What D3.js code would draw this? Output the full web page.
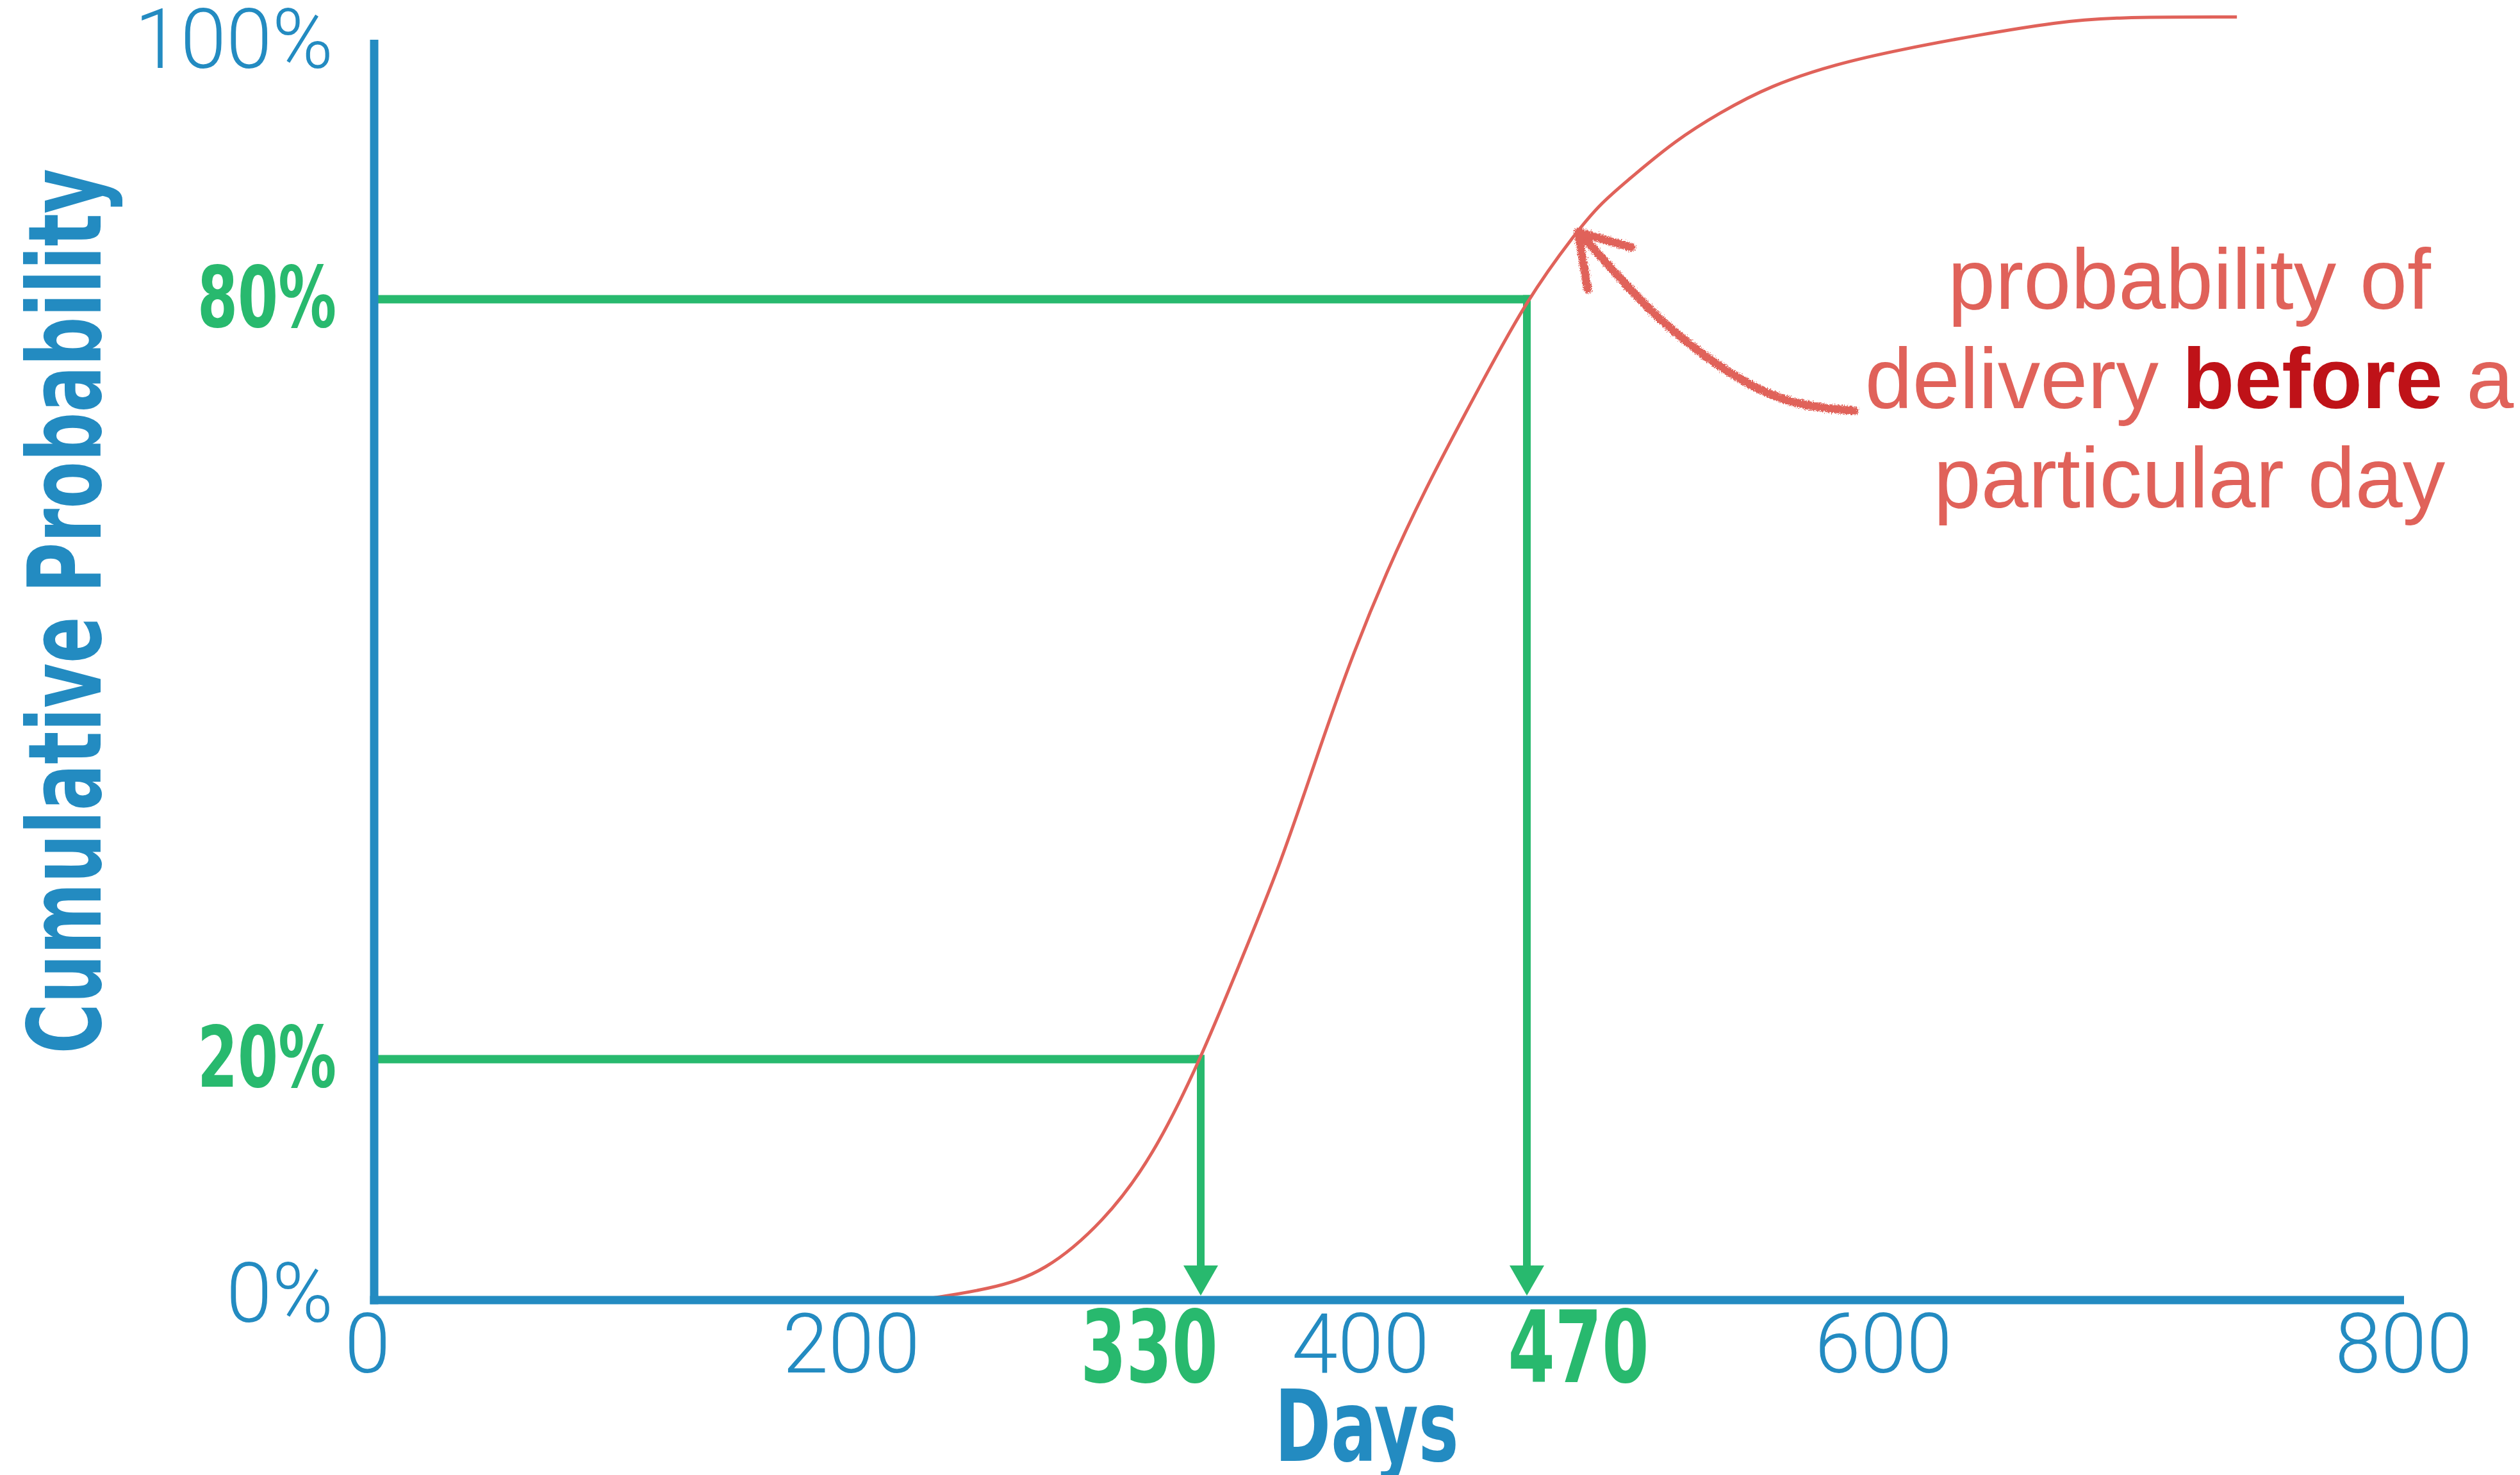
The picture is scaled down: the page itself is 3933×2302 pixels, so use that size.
<!DOCTYPE html>
<html>
<head>
<meta charset="utf-8">
<script src="https://cdn.jsdelivr.net/npm/d3@7"></script>
<style>
  html, body { margin: 0; padding: 0; background: #ffffff; }
  svg { display: block; }
</style>
</head>
<body>
<svg id="chart" width="3933" height="2302"></svg>
<script>
// ---------------- data ----------------
const curveDays = [225, 252, 272, 294, 312, 330, 347, 365, 380, 395, 411, 428, 449, 470, 488, 497, 509, 524, 540, 559, 583, 606, 637, 667, 688, 736];
const curveProb = [0, 0.009, 0.023, 0.065, 0.118, 0.200, 0.275, 0.354, 0.434, 0.512, 0.585, 0.653, 0.727, 0.800, 0.853, 0.876, 0.898, 0.925, 0.947, 0.969, 0.986, 0.997, 1.009, 1.019, 1.023, 1.023];

const xTickValues = [0, 200, 400, 600, 800];
const yTickValues = [0, 1];
const markerProb = [0.2, 0.8];
const markerDays = [330, 470];

// hand-drawn annotation arrow, in data units (days, probability)
const arrowDays = [589.5, 567.5, 548.1, 528.5, 514.0, 499.2, 489.6, 488.7];
const arrowProb = [0.712, 0.716, 0.735, 0.765, 0.793, 0.828, 0.852, 0.853];
const arrowHeadDays = [508.1, 488.7, 492.2];
const arrowHeadProb = [0.841, 0.853, 0.808];

const noteLines = [
  [{ t: "probability of", b: false }],
  [{ t: "delivery ", b: false }, { t: "before", b: true }, { t: " a", b: false }],
  [{ t: "particular day", b: false }]
];
const yTitle = "Cumulative Probability";
const xTitle = "Days";

// ---------------- style ----------------
const BLUE = "#238bc1";
const GREEN = "#28b96e";
const RED = "#e0625a";
const DARKRED = "#bf1218";
const LIGHT = "Roboto, 'Helvetica Neue', 'Liberation Sans', sans-serif";
const COND = "'Liberation Sans Narrow', 'DejaVu Sans Condensed', 'Liberation Sans', sans-serif";
const REG = "'Liberation Sans', Arial, 'Helvetica Neue', sans-serif";

const svg = d3.select("#chart");

// the hand-drawn original spaces its labels unevenly; a piecewise-linear scale reproduces that
const x = d3.scaleLinear()
  .domain([0, 200, 330, 400, 470, 600, 800])
  .range([573, 1328, 1874, 2123, 2383, 2939, 3751]);
const y = d3.scaleLinear()
  .domain([0, 0.2, 0.8, 1])
  .range([2029, 1653, 467, 72]);

const yAxisX = 584;

// rough texture filter for the hand-drawn arrow
const defs = svg.append("defs");
const f = defs.append("filter").attr("id", "rough")
  .attr("x", "-20%").attr("y", "-20%").attr("width", "140%").attr("height", "140%");
f.append("feTurbulence").attr("type", "fractalNoise").attr("baseFrequency", 0.6)
  .attr("numOctaves", 3).attr("seed", 5).attr("result", "noise");
f.append("feDisplacementMap").attr("in", "SourceGraphic").attr("in2", "noise")
  .attr("scale", 9).attr("xChannelSelector", "R").attr("yChannelSelector", "G");

// ---------------- green guide lines ----------------
const guides = svg.append("g");
markerDays.forEach((d, i) => {
  const p = markerProb[i];
  const gx = x(d), gy = y(p);
  guides.append("line")
    .attr("x1", yAxisX).attr("x2", gx + 6)
    .attr("y1", gy).attr("y2", gy)
    .attr("stroke", GREEN).attr("stroke-width", 13);
  guides.append("line")
    .attr("x1", gx).attr("x2", gx)
    .attr("y1", gy - 6.5).attr("y2", y(0) - 50)
    .attr("stroke", GREEN).attr("stroke-width", 12);
  guides.append("path")
    .attr("d", `M${gx - 27},${y(0) - 54} L${gx + 27},${y(0) - 54} L${gx},${y(0) - 7} Z`)
    .attr("fill", GREEN);
});

// ---------------- curve ----------------
const pts = curveDays.map((d, i) => [d, curveProb[i]]);
svg.append("path")
  .datum(pts)
  .attr("fill", "none")
  .attr("stroke", RED)
  .attr("stroke-width", 5)
  .attr("d", d3.line().x(d => x(d[0])).y(d => y(d[1])).curve(d3.curveBasis));

// ---------------- axes ----------------
svg.append("line")
  .attr("x1", yAxisX).attr("x2", yAxisX)
  .attr("y1", y(1) - 10).attr("y2", y(0) + 6.5)
  .attr("stroke", BLUE).attr("stroke-width", 13);
svg.append("line")
  .attr("x1", yAxisX - 6.5).attr("x2", x(800) + 1)
  .attr("y1", y(0)).attr("y2", y(0))
  .attr("stroke", BLUE).attr("stroke-width", 13);

// x ticks (light)
const gx = svg.append("g").attr("transform", `translate(0,${y(0)})`)
  .call(d3.axisBottom(x).tickValues(xTickValues).tickSize(0).tickPadding(21).tickFormat(d3.format("d")));
gx.select(".domain").remove();
gx.selectAll("text")
  .attr("fill", BLUE).style("font-family", LIGHT).style("font-weight", 300).style("font-size", "129px");

// x marker labels (bold green)
const gxm = svg.append("g").attr("transform", `translate(0,${y(0)})`)
  .call(d3.axisBottom(x).tickValues(markerDays).tickSize(0).tickPadding(18).tickFormat(d3.format("d")));
gxm.select(".domain").remove();
gxm.selectAll("text")
  .attr("fill", GREEN).style("font-family", COND).style("font-weight", 700).style("font-size", "155px")
  .attr("text-anchor", (d, i) => i === 0 ? "end" : "start")
  .attr("dx", (d, i) => i === 0 ? 26 : -30)
  .attr("textLength", (d, i) => i === 0 ? 214 : 220)
  .attr("lengthAdjust", "spacingAndGlyphs");

// y ticks (light)
const gy = svg.append("g").attr("transform", `translate(${yAxisX},0)`)
  .call(d3.axisLeft(y).tickValues(yTickValues).tickSize(0).tickPadding(64).tickFormat(d3.format(".0%")));
gy.select(".domain").remove();
gy.selectAll("text")
  .attr("fill", BLUE).style("font-family", LIGHT).style("font-weight", 300).style("font-size", "129px")
  .attr("dy", "0.26em");

// y marker labels (bold green)
const gym = svg.append("g").attr("transform", `translate(${yAxisX},0)`)
  .call(d3.axisLeft(y).tickValues(markerProb).tickSize(0).tickPadding(59).tickFormat(d3.format(".0%")));
gym.select(".domain").remove();
gym.selectAll("text")
  .attr("fill", GREEN).style("font-family", COND).style("font-weight", 700).style("font-size", "132px")
  .attr("dy", "0.32em")
  .attr("textLength", 217).attr("lengthAdjust", "spacingAndGlyphs");

// axis titles
svg.append("text")
  .attr("transform", `translate(157,954) rotate(-90)`)
  .attr("text-anchor", "middle")
  .attr("fill", BLUE).style("font-family", COND).style("font-weight", 700).style("font-size", "158px")
  .attr("textLength", 1381).attr("lengthAdjust", "spacingAndGlyphs")
  .text(yTitle);
svg.append("text")
  .attr("x", 2133).attr("y", 2280)
  .attr("text-anchor", "middle")
  .attr("fill", BLUE).style("font-family", COND).style("font-weight", 700).style("font-size", "155px")
  .attr("textLength", 287).attr("lengthAdjust", "spacingAndGlyphs")
  .text(xTitle);

// ---------------- annotation ----------------
const note = svg.append("g");
noteLines.forEach((parts, i) => {
  const t = note.append("text")
    .attr("x", 3417).attr("y", 482 + i * 155)
    .attr("text-anchor", "middle")
    .style("font-family", REG).style("font-size", "133px");
  parts.forEach(p => {
    t.append("tspan")
      .attr("fill", p.b ? DARKRED : RED)
      .style("font-weight", p.b ? 700 : 400)
      .text(p.t);
  });
});

const arrowPts = arrowDays.map((d, i) => [x(d), y(arrowProb[i])]);
const headPts = arrowHeadDays.map((d, i) => [x(d), y(arrowHeadProb[i])]);
const ag = svg.append("g").attr("filter", "url(#rough)");
ag.append("path")
  .attr("d", d3.line().curve(d3.curveBasis)(arrowPts))
  .attr("fill", "none").attr("stroke", RED).attr("stroke-width", 13).attr("stroke-linecap", "round");
ag.append("path")
  .attr("d", d3.line()(headPts))
  .attr("fill", "none").attr("stroke", RED).attr("stroke-width", 13)
  .attr("stroke-linecap", "round").attr("stroke-linejoin", "round");
</script>
</body>
</html>
